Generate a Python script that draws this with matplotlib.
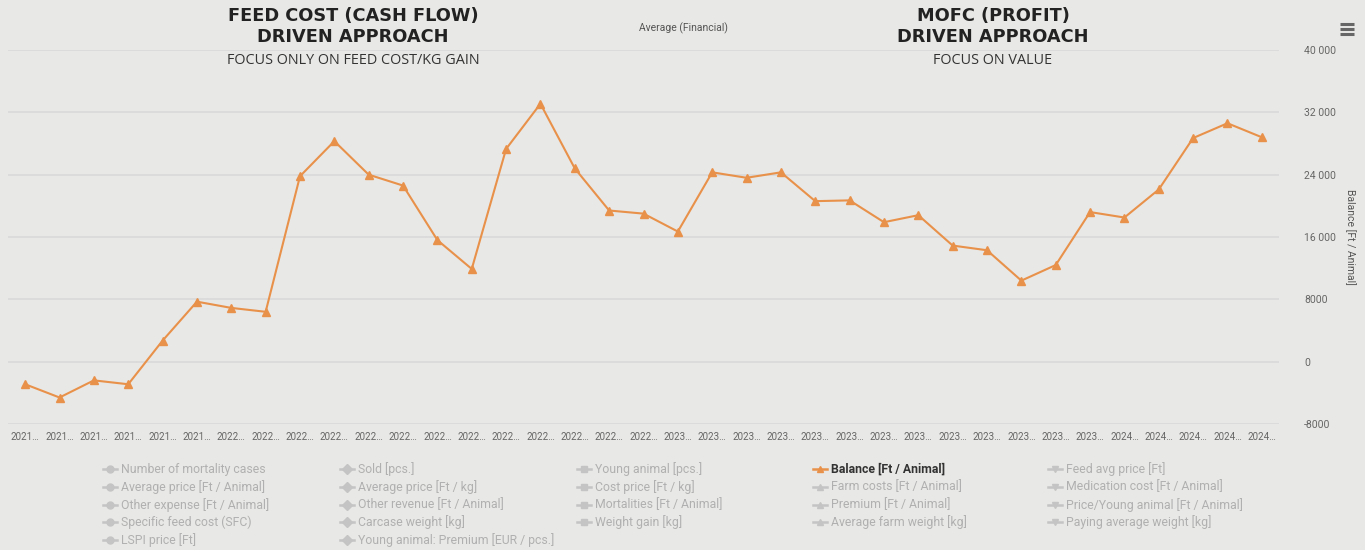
import matplotlib.pyplot as plt
from matplotlib.lines import Line2D
from matplotlib.ticker import FuncFormatter

# Data
years = (["2021"] * 6 + ["2022"] * 13 + ["2023"] * 13 + ["2024"] * 5)
balance = [-2900, -4600, -2400, -2900, 2700, 7700, 6900, 6400,
           23800, 28300, 24000, 22600, 15600, 11900, 27300, 33100,
           24800, 19400, 19000, 16700, 24300, 23600, 24300, 20600,
           20700, 17900, 18800, 14900, 14300, 10400, 12400, 19200,
           18500, 22100, 28700, 30600, 28800]
y_ticks = [-8000, 0, 8000, 16000, 24000, 32000, 40000]

# legend series, row by row (5 per row)
series_names = [
    "Number of mortality cases", "Sold [pcs.]", "Young animal [pcs.]",
    "Balance [Ft / Animal]", "Feed avg price [Ft]",
    "Average price [Ft / Animal]", "Average price [Ft / kg]", "Cost price [Ft / kg]",
    "Farm costs [Ft / Animal]", "Medication cost [Ft / Animal]",
    "Other expense [Ft / Animal]", "Other revenue [Ft / Animal]",
    "Mortalities [Ft / Animal]", "Premium [Ft / Animal]",
    "Price/Young animal [Ft / Animal]",
    "Specific feed cost (SFC)", "Carcase weight [kg]", "Weight gain [kg]",
    "Average farm weight [kg]", "Paying average weight [kg]",
    "LSPI price [Ft]", "Young animal: Premium [EUR / pcs.]",
]
active_series = "Balance [Ft / Animal]"

bg = "#e8e8e6"
orange = "#e8914a"
grid_c = "#dadada"

plt.rcParams['font.family'] = ['Roboto', 'DejaVu Sans']

fig = plt.figure(figsize=(13.65, 5.5), dpi=100, facecolor=bg)
W, H = 1365, 550

ax = fig.add_axes([8 / W, 1 - 424 / H, 1271 / W, 374 / H])
ax.set_facecolor(bg)

x = list(range(len(balance)))
ax.plot(x, balance, color=orange, lw=1.5, marker="^", ms=5.5, zorder=3)

ax.set_xlim(-0.5, len(balance) - 0.5)
ax.set_ylim(-8000, 40000)
ax.set_yticks(y_ticks)
ax.yaxis.tick_right()
ax.yaxis.set_major_formatter(FuncFormatter(
    lambda v, p: f"{int(v):,}".replace(",", " ") if abs(v) >= 10000 else f"{int(v)}"))
ax.tick_params(axis="y", length=0, pad=18, labelsize=7.5, labelcolor="#666666")
ax.set_xticks(x)
ax.set_xticklabels([y + "…" for y in years], fontsize=7, color="#666666")
ax.tick_params(axis="x", length=0, pad=6)
ax.grid(axis="y", color=grid_c, lw=1.3)
for s in ax.spines.values():
    s.set_visible(False)
ax.yaxis.set_label_position("right")
ax.set_ylabel("Balance [Ft / Animal]", rotation=-90, fontsize=7.5,
              color="#555555", labelpad=14)

# headings
def fy(py):
    return 1 - py / H

for cx, l1, sub in [(353, "FEED COST (CASH FLOW)", "FOCUS ONLY ON FEED COST/KG GAIN"),
                    (993, "MOFC (PROFIT)", "FOCUS ON VALUE")]:
    fig.text(cx / W, fy(16), l1, ha="center", va="center", fontsize=12.8,
             fontweight="bold", color="#222222", family="DejaVu Sans")
    fig.text(cx / W, fy(37), "DRIVEN APPROACH", ha="center", va="center",
             fontsize=12.8, fontweight="bold", color="#222222", family="DejaVu Sans")
    fig.text(cx / W, fy(61), sub, ha="center", va="center", fontsize=10.4,
             color="#333333", family="Open Sans")

fig.text(683 / W, fy(28), "Average (Financial)", ha="center", va="center",
         fontsize=7.5, color="#555555")

# menu icon
for py in (24, 29, 34):
    fig.add_artist(Line2D([1340 / W, 1354 / W], [fy(py), fy(py)],
                          color="#666666", lw=2.2, solid_capstyle="butt"))

# legend
markers = ["o", "D", "s", "^", "v"]
col_x = [103, 340, 577, 813, 1048]
row_y = [469, 487, 505, 522, 540]
for i, name in enumerate(series_names):
    r, c = divmod(i, 5)
    on = name == active_series
    mc = orange if on else "#c4c4c4"
    tc = "#333333" if on else "#b0b0b0"
    x0 = col_x[c]
    fig.add_artist(Line2D([x0 / W, (x0 + 14) / W], [fy(row_y[r]), fy(row_y[r])],
                          color=mc, lw=1.8))
    fig.add_artist(Line2D([(x0 + 7) / W], [fy(row_y[r])], color=mc,
                          marker=markers[c], ms=5, lw=0))
    fig.text((x0 + 18) / W, fy(row_y[r]), name, ha="left", va="center",
             fontsize=8.8, color=tc, fontweight="bold" if on else "normal")

fig.savefig("out.png", dpi=100, facecolor=bg)
